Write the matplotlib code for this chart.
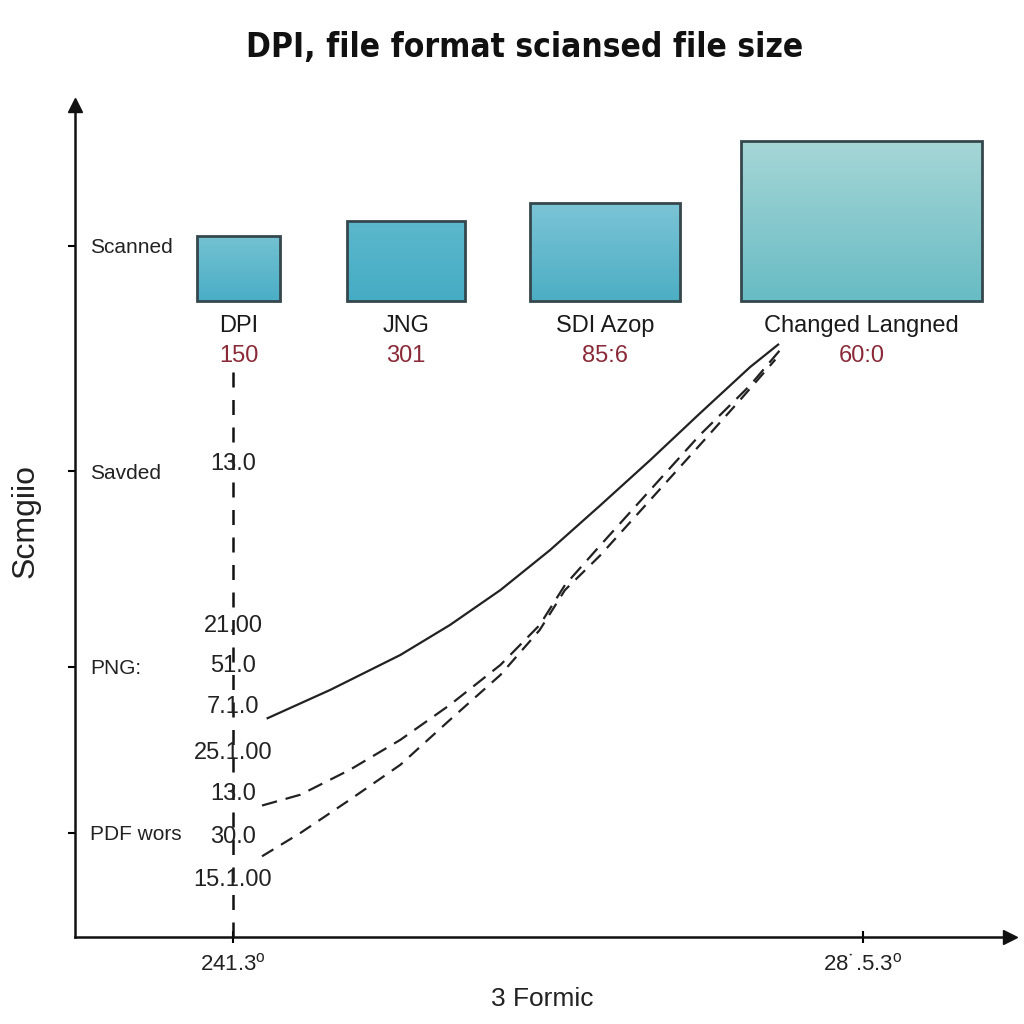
import numpy as np
import matplotlib
matplotlib.use("Agg")
import matplotlib.pyplot as plt
from matplotlib.patches import Rectangle
from matplotlib import font_manager
from matplotlib.font_manager import FontProperties

plt.rcParams['font.family'] = ['Liberation Sans', 'DejaVu Sans']

# pick a condensed face for the title if one is installed
cond = [f for f in font_manager.fontManager.ttflist
        if ('condensed' in str(f.stretch) or 'Narrow' in f.name or 'Condensed' in f.name)
        and 'Mono' not in f.name and 'Serif' not in f.name]
cond_bold = [f for f in cond if f.weight in ('bold', 700, 600, 'semibold')]
if cond_bold:
    title_fp = FontProperties(fname=cond_bold[0].fname, size=24)
elif cond:
    title_fp = FontProperties(fname=cond[0].fname, size=24, weight='bold')
else:
    title_fp = FontProperties(family='Liberation Sans', size=22, weight='bold')

# ---------------- data ----------------
title = "DPI, file format sciansed file size"
ylabel = "Scmgiio"
xlabel = "3 Formic"

bar_names = ["DPI", "JNG", "SDI Azop", "Changed Langned"]
bar_values = ["150", "301", "85:6", "60:0"]
bar_centers = [17.5, 35.4, 56.7, 84.1]
bar_widths = [8.9, 12.6, 16.1, 25.8]
bar_tops = [84.3, 86.1, 88.2, 95.7]
bar_base = 76.4

ytick_pos = [83.1, 56.0, 32.5, 12.5]
ytick_labels = ["Scanned", "Savded", "PNG:", "PDF wors"]

xtick_pos = [16.9, 84.3]
xtick_labels = ["241.3$^\\mathregular{o}$", "28˙.5.3$^\\mathregular{o}$"]

scale_x = 16.9
scale_top = 68.1
scale_vals = ["13.0", "21.00", "51.0", "7.1.0", "25.1.00", "13.0", "30.0", "15.1.00"]
scale_pos = [56.8, 37.4, 32.6, 27.6, 22.1, 17.2, 12.0, 6.9]

solid_x = [20.6, 27.3, 34.8, 40.1, 45.5, 50.8, 56.2, 61.5, 66.8, 72.2, 75.2]
solid_y = [26.3, 29.7, 33.9, 37.5, 41.7, 46.5, 51.9, 57.3, 62.9, 68.5, 71.2]
dash1_x = [20.0, 24.1, 29.4, 34.8, 40.1, 45.5, 49.7, 52.4, 56.2, 61.5, 66.8, 72.2, 75.9]
dash1_y = [15.8, 17.1, 20.1, 23.7, 27.9, 32.7, 37.5, 42.3, 47.1, 53.7, 60.3, 66.3, 71.2]
dash2_x = [20.0, 24.1, 29.4, 34.8, 40.1, 45.5, 49.7, 52.4, 56.2, 61.5, 66.8, 71.1, 74.9]
dash2_y = [9.7, 12.5, 16.5, 20.7, 26.1, 31.5, 36.9, 41.7, 45.9, 52.5, 59.1, 64.5, 69.4]

# bar gradient colours (top, bottom)
bar_grad = [("#74c2d2", "#4aaec6"), ("#5cb8cc", "#45acc4"),
            ("#7cc4d6", "#4caec4"), ("#a6d6d6", "#68bcc4")]

# ---------------- figure ----------------
fig = plt.figure(figsize=(10.24, 10.24), dpi=100)
ax = fig.add_axes([75/1024, 87/1024, 935/1024, 832/1024])
ax.set_xlim(0, 100)
ax.set_ylim(0, 100)

for s in ['top', 'right']:
    ax.spines[s].set_visible(False)
for s in ['left', 'bottom']:
    ax.spines[s].set_linewidth(1.8)
    ax.spines[s].set_color('#111111')

# arrow heads
ax.plot([0], [1.0], marker='^', ms=10, color='#111111', transform=ax.transAxes, clip_on=False)
ax.plot([1.0], [0], marker='>', ms=10, color='#111111', transform=ax.transAxes, clip_on=False)

# bars with vertical gradient
for c, w, t, (ctop, cbot) in zip(bar_centers, bar_widths, bar_tops, bar_grad):
    left = c - w / 2
    rect = Rectangle((left, bar_base), w, t - bar_base, facecolor='none',
                     edgecolor='#35474d', linewidth=2.0, zorder=3)
    ax.add_patch(rect)
    c1 = np.array(matplotlib.colors.to_rgb(ctop))
    c2 = np.array(matplotlib.colors.to_rgb(cbot))
    g = np.linspace(0, 1, 64)[:, None]
    img = (c1[None, :] * (1 - g) + c2[None, :] * g)[:, None, :]
    im = ax.imshow(img, extent=(left, left + w, bar_base, t), aspect='auto',
                   origin='upper', zorder=2, interpolation='bilinear')
    im.set_clip_path(rect)

# bar labels
for c, n, v in zip(bar_centers, bar_names, bar_values):
    ax.text(c, 73.4, n, ha='center', va='center', fontsize=17, color='#1a1a1a', zorder=4)
    ax.text(c, 69.8, v, ha='center', va='center', fontsize=17, color='#8a2a38', zorder=4)

# vertical dashed scale
ax.plot([scale_x, scale_x], [0, scale_top], color='#111111', lw=1.8,
        linestyle=(0, (6, 5)), zorder=3)
for v, p in zip(scale_vals, scale_pos):
    ax.text(scale_x, p, v, ha='center', va='center', fontsize=17, color='#222222', zorder=4)

# curves
ax.plot(solid_x, solid_y, color='#222222', lw=1.6, zorder=3, solid_joinstyle='round')
ax.plot(dash1_x, dash1_y, color='#222222', lw=1.6, linestyle=(0, (7, 4)), zorder=3)
ax.plot(dash2_x, dash2_y, color='#222222', lw=1.6, linestyle=(0, (6, 4)), zorder=3)

# y ticks (labels inside axes)
ax.set_yticks(ytick_pos)
ax.set_yticklabels(ytick_labels, fontsize=15, color='#222222')
ax.tick_params(axis='y', direction='out', length=5, width=1.5, pad=-16)
for t in ax.get_yticklabels():
    t.set_horizontalalignment('left')

# x ticks
ax.set_xticks(xtick_pos)
ax.set_xticklabels(xtick_labels, fontsize=16, color='#222222')
ax.tick_params(axis='x', direction='inout', length=8, width=1.5, pad=8)

ax.set_ylabel(ylabel, fontsize=23, color='#222222', labelpad=20)
ax.set_xlabel(xlabel, fontsize=19, color='#222222', labelpad=8)

fig.text(525/1024, 1 - 48/1024, title, ha='center', va='center',
         color='#111111', fontproperties=title_fp)

fig.savefig("out.png", dpi=100, facecolor='white')
